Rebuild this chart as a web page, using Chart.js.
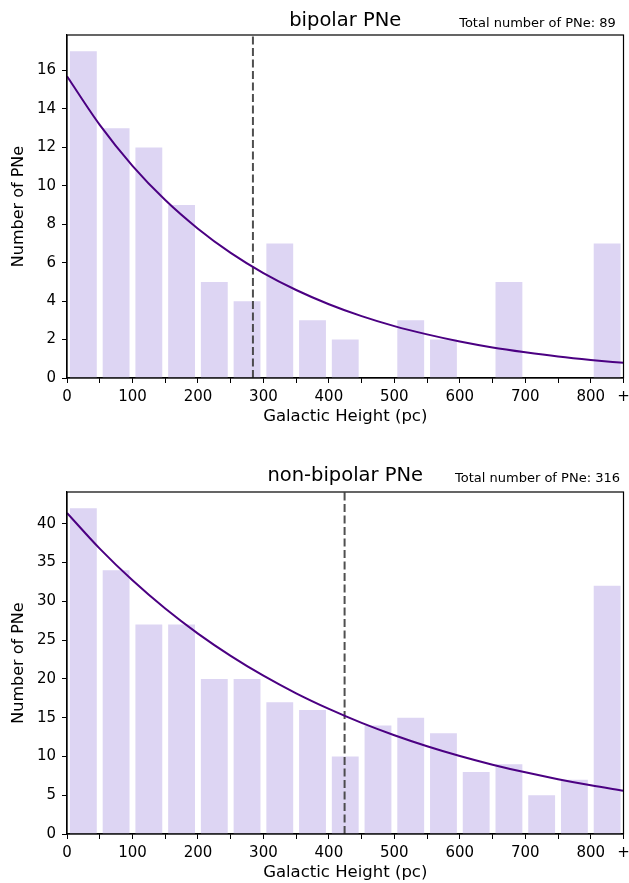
<!DOCTYPE html>
<html>
<head>
<meta charset="utf-8">
<script src="https://cdn.jsdelivr.net/npm/chart.js@4.4.0/dist/chart.umd.min.js"></script>
<style>
  html, body { margin: 0; padding: 0; background: #ffffff; }
  #wrap { position: relative; width: 629px; height: 883px; }
  canvas { position: absolute; left: 0; }
</style>
</head>
<body>
<div id="wrap">
  <canvas id="bipolar" width="629" height="427" style="top:0px"></canvas>
  <canvas id="nonBipolar" width="629" height="426" style="top:457px"></canvas>
</div>
<script>
// Histogram bins: 50 pc wide; the last bin holds every PN above 800 pc.
const binCenters = [25, 75, 125, 175, 225, 275, 325, 375, 425, 475, 525, 575, 625, 675, 725, 775, 825];
const bipolarCounts    = [17, 13, 12, 9, 5, 4, 7, 3, 2, 0, 3, 2, 0, 5, 0, 0, 7];
const nonBipolarCounts = [42, 34, 27, 27, 20, 20, 17, 16, 10, 14, 15, 13, 8, 9, 5, 7, 32];

// Exponential fits, sampled every 50 pc.
const fitHeights    = [0, 50, 100, 150, 200, 250, 300, 350, 400, 450, 500, 550, 600, 650, 700, 750, 800, 850];
const bipolarFit    = [15.7, 13.17, 11.04, 9.26, 7.77, 6.51, 5.46, 4.58, 3.84, 3.22, 2.70, 2.27, 1.90, 1.59, 1.34, 1.12, 0.94, 0.79];
const nonBipolarFit = [41.4, 36.80, 32.71, 29.07, 25.84, 22.97, 20.41, 18.14, 16.13, 14.33, 12.74, 11.32, 10.06, 8.94, 7.95, 7.07, 6.28, 5.58];

// Scale heights (pc), marked by the dashed vertical lines.
const bipolarScaleHeight = 284;
const nonBipolarScaleHeight = 424;

// Axis ticks.
const xTickValues = [0, 50, 100, 150, 200, 250, 300, 350, 400, 450, 500, 550, 600, 650, 700, 750, 800, 850];
const xTickLabels = ['0', '', '100', '', '200', '', '300', '', '400', '', '500', '', '600', '', '700', '', '800', '+'];
const bipolarYTicks    = [0, 2, 4, 6, 8, 10, 12, 14, 16];
const nonBipolarYTicks = [0, 5, 10, 15, 20, 25, 30, 35, 40];

const FONT = 'DejaVu Sans';
const BAR_COLOR = 'rgb(221, 213, 243)';
const FIT_COLOR = '#4b0082';

function makePanel(canvasId, cfg) {
  const yMax = Math.max(...cfg.counts) * 1.05;

  // Frame around the plot area plus the panel title and total count.
  const panelDecor = {
    id: 'panelDecor',
    afterDraw(chart) {
      const { ctx, chartArea: a } = chart;
      ctx.save();
      ctx.strokeStyle = '#000';
      ctx.lineWidth = 1.2;
      ctx.strokeRect(a.left, a.top, a.right - a.left, a.bottom - a.top);
      ctx.fillStyle = '#000';
      ctx.textBaseline = 'alphabetic';
      ctx.textAlign = 'center';
      ctx.font = '19.5px "' + FONT + '"';
      ctx.fillText(cfg.title, (a.left + a.right) / 2, cfg.titleY);
      ctx.font = '13px "' + FONT + '"';
      ctx.fillText('Total number of PNe: ' + cfg.total, 537.5, cfg.titleY + 1);
      ctx.restore();
    }
  };

  return new Chart(document.getElementById(canvasId), {
    type: 'bar',
    data: {
      datasets: [
        {
          type: 'line',
          data: fitHeights.map((x, i) => ({ x, y: cfg.fit[i] })),
          borderColor: FIT_COLOR,
          borderWidth: 2,
          pointRadius: 0,
          cubicInterpolationMode: 'monotone',
          fill: false,
          order: 1
        },
        {
          type: 'line',
          data: [{ x: cfg.scaleHeight, y: 0 }, { x: cfg.scaleHeight, y: yMax }],
          borderColor: 'rgba(60, 60, 60, 0.9)',
          borderWidth: 2,
          borderDash: [8, 3.5],
          pointRadius: 0,
          fill: false,
          order: 2
        },
        {
          type: 'bar',
          data: binCenters.map((x, i) => ({ x, y: cfg.counts[i] })),
          backgroundColor: BAR_COLOR,
          borderWidth: 0,
          barPercentage: 0.82,
          categoryPercentage: 1.0,
          order: 3
        }
      ]
    },
    options: {
      responsive: false,
      animation: false,
      events: [],
      layout: { padding: { top: 35, right: 5.5, left: 0, bottom: 0 } },
      plugins: { legend: { display: false }, tooltip: { enabled: false }, title: { display: false } },
      scales: {
        x: {
          type: 'linear',
          min: 0,
          max: 850,
          offset: false,
          grid: { display: true, drawOnChartArea: false, drawTicks: true, tickLength: 5, tickColor: '#000', tickWidth: 1, offset: false },
          border: { display: true, color: '#000', width: 1.2 },
          afterBuildTicks(scale) { scale.ticks = xTickValues.map(v => ({ value: v })); },
          afterFit(scale) {
            scale.height = 49;
            scale.paddingLeft = 0;
            scale.paddingRight = 0;
          },
          ticks: {
            autoSkip: false,
            maxRotation: 0,
            padding: 5,
            color: '#000',
            font: { family: FONT, size: 15 },
            callback: (value) => xTickLabels[xTickValues.indexOf(value)]
          },
          title: {
            display: true,
            text: 'Galactic Height (pc)',
            color: '#000',
            font: { family: FONT, size: 16.5 },
            padding: { top: 0, bottom: 0 }
          }
        },
        y: {
          min: 0,
          max: yMax,
          grid: { display: true, drawOnChartArea: false, drawTicks: true, tickLength: 5, tickColor: '#000', tickWidth: 1 },
          border: { display: true, color: '#000', width: 1.2 },
          afterBuildTicks(scale) { scale.ticks = cfg.yTicks.map(v => ({ value: v })); },
          afterFit(scale) {
            scale.width = 67;
            scale.paddingTop = 0;
            scale.paddingBottom = 0;
          },
          ticks: {
            padding: 6,
            color: '#000',
            font: { family: FONT, size: 15 }
          },
          title: {
            display: true,
            text: 'Number of PNe',
            color: '#000',
            font: { family: FONT, size: 16 },
            padding: { top: 9, bottom: 0 }
          }
        }
      }
    },
    plugins: [panelDecor]
  });
}

makePanel('bipolar', {
  title: 'bipolar PNe', total: 89, titleY: 26,
  counts: bipolarCounts, fit: bipolarFit, scaleHeight: bipolarScaleHeight, yTicks: bipolarYTicks
});
makePanel('nonBipolar', {
  title: 'non-bipolar PNe', total: 316, titleY: 24,
  counts: nonBipolarCounts, fit: nonBipolarFit, scaleHeight: nonBipolarScaleHeight, yTicks: nonBipolarYTicks
});
</script>
</body>
</html>
